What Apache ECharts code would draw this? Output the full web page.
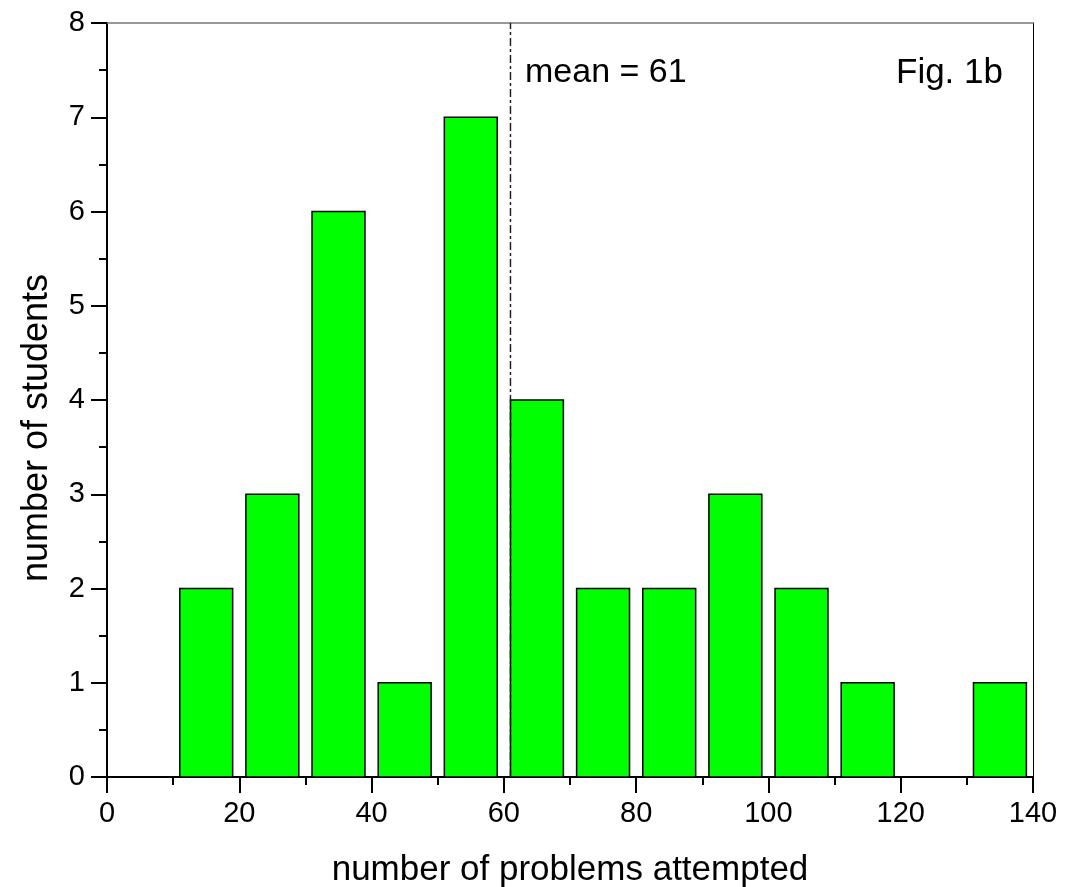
<!DOCTYPE html>
<html>
<head>
<meta charset="utf-8">
<script src="https://cdn.jsdelivr.net/npm/echarts@6/dist/echarts.min.js"></script>
<style>
  html, body { margin: 0; padding: 0; background: #fff; }
  #chart { width: 1072px; height: 887px; }
</style>
</head>
<body>
<div id="chart"></div>
<script>
// histogram bins (centre of each bin) and counts
var binCenters = [15, 25, 35, 45, 55, 65, 75, 85, 95, 105, 115, 125, 135];
var counts = [2, 3, 6, 1, 7, 4, 2, 2, 3, 2, 1, 0, 1];
var meanValue = 61;
var xTicks = [0, 20, 40, 60, 80, 100, 120, 140];
var yTicks = [0, 1, 2, 3, 4, 5, 6, 7, 8];

var binHalf = 4;
var fontFam = '"Liberation Sans", Arial, sans-serif';

var barData = [];
for (var i = 0; i < binCenters.length; i++) {
  barData.push([binCenters[i], counts[i]]);
}

var chart = echarts.init(document.getElementById('chart'));

function renderBar(params, api) {
  var c = api.value(0);
  var v = api.value(1);
  if (!v) return;
  var p0 = api.coord([c - binHalf, 0]);
  var p1 = api.coord([c + binHalf, v]);
  return {
    type: 'rect',
    shape: { x: p0[0], y: p1[1], width: p1[0] - p0[0], height: p0[1] - p1[1] },
    style: { fill: '#00ff00', stroke: '#000', lineWidth: 1.5 }
  };
}

var option = {
  animation: false,
  backgroundColor: '#fff',
  grid: { left: 107, right: 39, top: 23, bottom: 110, outerBoundsMode: 'none', containLabel: false },
  xAxis: [{
    type: 'value',
    min: xTicks[0],
    max: xTicks[xTicks.length - 1],
    interval: 20,
    name: 'number of problems attempted',
    nameLocation: 'middle',
    nameGap: 76,
    nameTextStyle: { fontFamily: fontFam, fontSize: 35, color: '#000' },
    axisLine: { show: true, lineStyle: { color: '#000', width: 2 } },
    axisTick: { show: true, inside: false, length: 16, lineStyle: { color: '#000', width: 2 } },
    minorTick: { show: true, splitNumber: 2, length: 8, lineStyle: { color: '#000', width: 2 } },
    axisLabel: { fontFamily: fontFam, fontSize: 29, color: '#000', margin: 22 },
    splitLine: { show: false }
  }, {
    type: 'value',
    position: 'top',
    min: xTicks[0],
    max: xTicks[xTicks.length - 1],
    axisLine: { show: true, onZero: false, lineStyle: { color: '#777', width: 1.5 } },
    axisTick: { show: false },
    axisLabel: { show: false },
    splitLine: { show: false }
  }],
  yAxis: [{
    type: 'value',
    min: yTicks[0],
    max: yTicks[yTicks.length - 1],
    interval: 1,
    axisLine: { show: true, lineStyle: { color: '#000', width: 2 } },
    axisTick: { show: true, inside: false, length: 16, lineStyle: { color: '#000', width: 2 } },
    minorTick: { show: true, splitNumber: 2, length: 8, lineStyle: { color: '#000', width: 2 } },
    axisLabel: { fontFamily: fontFam, fontSize: 29, color: '#000', margin: 22 },
    splitLine: { show: false }
  }, {
    type: 'value',
    position: 'right',
    min: yTicks[0],
    max: yTicks[yTicks.length - 1],
    axisLine: { show: true, onZero: false, lineStyle: { color: '#000', width: 1 } },
    axisTick: { show: false },
    axisLabel: { show: false },
    splitLine: { show: false }
  }],
  series: [{
    type: 'custom',
    renderItem: renderBar,
    data: barData,
    z: 2
  }, {
    type: 'line',
    data: [[meanValue, yTicks[0]], [meanValue, yTicks[yTicks.length - 1]]],
    symbol: 'none',
    lineStyle: { color: '#222', width: 1.5, type: [8, 3, 3, 3] },
    z: 3
  }],
  graphic: [{
    type: 'text',
    x: 37,
    y: 428,
    rotation: Math.PI / 2,
    style: {
      text: 'number of students', font: '36px ' + fontFam, fill: '#000',
      align: 'center', verticalAlign: 'middle'
    }
  }, {
    type: 'text',
    left: 525,
    top: 56,
    style: { text: 'mean = 61', font: '34px ' + fontFam, fill: '#000' }
  }, {
    type: 'text',
    left: 896,
    top: 56,
    style: { text: 'Fig. 1b', font: '35px ' + fontFam, fill: '#000' }
  }]
};

chart.setOption(option);
</script>
</body>
</html>
